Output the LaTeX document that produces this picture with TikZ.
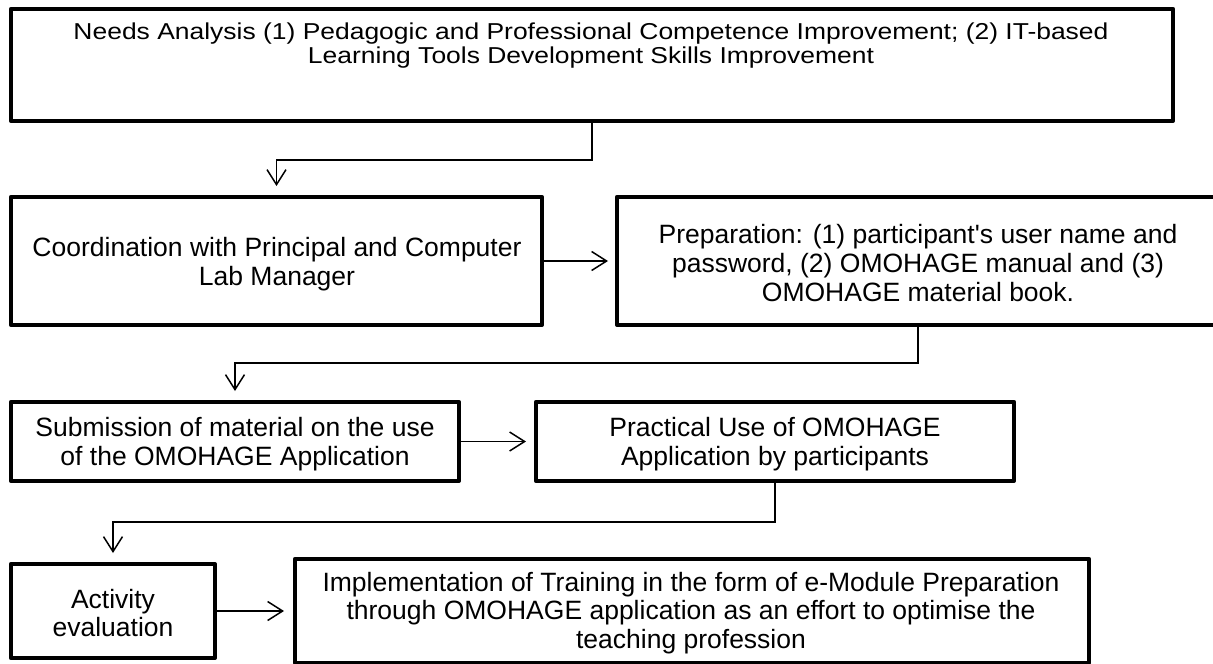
\documentclass[tikz,border=0pt]{standalone}
\usepackage{fontspec}
\newfontfamily\mainf{Liberation Sans}
\newfontfamily\widefont[FakeStretch=1.15]{Liberation Sans}
\usetikzlibrary{arrows.meta}
\begin{document}
\begin{tikzpicture}[x=1pt,y=-1pt,
  box/.style={draw, line width=3.8pt, line join=round, inner sep=0pt},
  txt/.style={align=center, inner sep=0pt, font=\mainf\fontsize{26.5}{28.7}\selectfont},
  toptxt/.style={align=center, inner sep=0pt, font=\widefont\fontsize{23}{24}\selectfont},
  conn/.style={line width=1.5pt, -{Straight Barb[length=15pt,width=19pt,line width=1.5pt]}}
]
\path[use as bounding box] (0,0) rectangle (1213,664);
% boxes
\node[box, minimum width=1162.2pt, minimum height=112.2pt] (b1) at (592,65) {};
\node[box, minimum width=531.2pt, minimum height=128.2pt] (b2) at (276.5,261) {};
\node[box, minimum width=602.2pt, minimum height=128.2pt] (b3) at (918,261) {};
\node[box, minimum width=448.2pt, minimum height=79.2pt] (b4) at (235,441.5) {};
\node[box, minimum width=478.2pt, minimum height=79.2pt] (b5) at (775,441.5) {};
\node[box, minimum width=204.2pt, minimum height=94.2pt] (b6) at (113,611) {};
\node[box, minimum width=794.2pt, minimum height=104.2pt] (b7) at (692,611) {};
% texts
\node[toptxt] (t1) at (591,46) {Needs Analysis (1) Pedagogic and Professional Competence Improvement; (2) IT-based\\Learning Tools Development Skills Improvement};
\node[txt] (t2) at (277,264) {Coordination with Principal and Computer\\Lab Manager};
\node[txt] (t3) at (918,263) {Preparation: (1) participant's user name and\\password, (2) OMOHAGE manual and (3)\\OMOHAGE material book.};
\node[txt] (t4) at (235,444) {Submission of material on the use\\of the OMOHAGE Application};
\node[txt] (t5) at (775,444) {Practical Use of OMOHAGE\\Application by participants};
\node[txt] (t6) at (113,613) {Activity\\evaluation};
\node[txt] (t7) at (691,613) {Implementation of Training in the form of e-Module Preparation\\through OMOHAGE application as an effort to optimise the\\teaching profession};
% bend levels
\coordinate (k1) at (0,160);
\coordinate (k2) at (0,363);
\coordinate (k3) at (0,522);
% connectors
\draw[conn, shorten >=9pt] (b1.south) -- (b1.south |- k1) -- (b2.north |- k1) -- (b2.north);
\draw[conn, shorten >=7pt] (b2.east) -- (b3.west);
\draw[conn, shorten >=9pt] (b3.south) -- (b3.south |- k2) -- (b4.north |- k2) -- (b4.north);
\draw[conn, shorten >=8pt] (b4.east) -- (b5.west);
\draw[conn, shorten >=9pt] (b5.south) -- (b5.south |- k3) -- (b6.north |- k3) -- (b6.north);
\draw[conn, shorten >=9pt] (b6.east) -- (b7.west);
\end{tikzpicture}
\end{document}
